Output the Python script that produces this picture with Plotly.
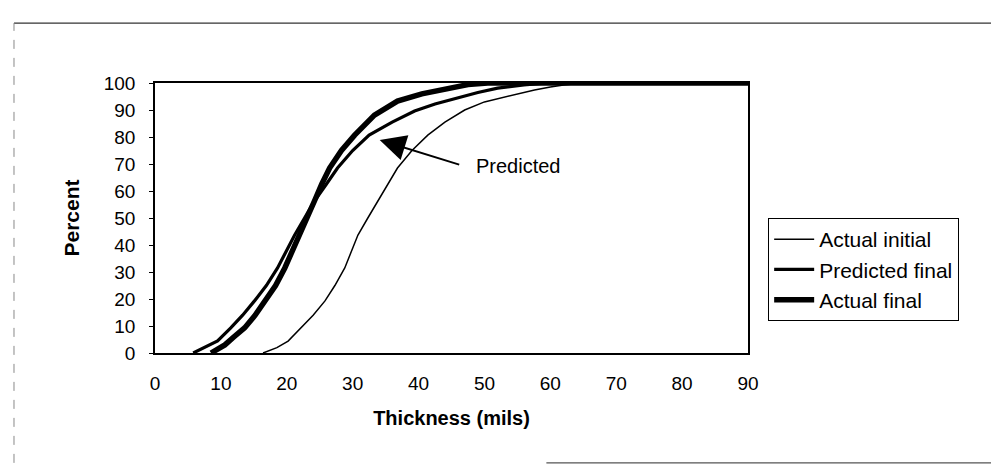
import plotly.graph_objects as go

# ---- data ----
actual_initial_x = [16.4, 18.5, 20.2, 22.1, 24.0, 25.8, 27.3, 28.8, 30.8, 32.3, 33.8, 36.8, 39.0,
                    41.4, 44.0, 47.0, 50.0, 52.4, 55.0, 57.6, 60.0, 62.0, 65.0, 90]
actual_initial_y = [0, 2, 4.4, 9.3, 14, 19.3, 25, 31.5, 43.7, 50, 56.3, 68.5, 75,
                    80.7, 85.5, 90, 93, 94.4, 96, 97.4, 98.5, 99.3, 100, 100]

predicted_final_x = [5.8, 8.0, 9.5, 11.5, 13.3, 15.1, 16.9, 18.6, 21.2, 22.7, 24.2, 26.0, 27.7,
                     30.0, 32.5, 36.0, 39.4, 42.5, 45.9, 49.0, 52.0, 56.0, 59.5, 90]
predicted_final_y = [0, 2.5, 4.5, 9.3, 14, 19.3, 25, 31.5, 43.7, 50, 56.3, 62.5, 68.5,
                     75, 80.7, 85.5, 89.6, 92.2, 94.4, 96.5, 98.1, 99.3, 100, 100]

actual_final_x = [8.5, 10.6, 12.0, 13.6, 15.2, 16.8, 18.3, 19.7, 22.0, 23.1, 24.2, 25.3, 26.5,
                  28.3, 30.3, 33.3, 36.8, 40.5, 44.4, 47.5, 50.5, 90]
actual_final_y = [0, 3, 6, 9.3, 14, 19.3, 25, 31.5, 43.7, 50, 56.3, 62.5, 68.5,
                  75, 80.7, 88.1, 93.3, 96, 98.1, 99.4, 100, 100]

x_ticks = [0, 10, 20, 30, 40, 50, 60, 70, 80, 90]
y_ticks = [0, 10, 20, 30, 40, 50, 60, 70, 80, 90, 100]

series_names = ["Actual initial", "Predicted final", "Actual final"]
annotation_text = "Predicted"
arrow_tip = (34.1, 78.9)
arrow_tail = (46.4, 69.6)
label_pos = (48.4, 69.3)

FONT = "Liberation Sans, Arial, sans-serif"

fig = go.Figure()
fig.add_trace(go.Scatter(x=actual_initial_x, y=actual_initial_y, mode="lines",
                         name=series_names[0], line=dict(color="black", width=1.5)))
fig.add_trace(go.Scatter(x=predicted_final_x, y=predicted_final_y, mode="lines",
                         name=series_names[1], line=dict(color="black", width=3.2)))
fig.add_trace(go.Scatter(x=actual_final_x, y=actual_final_y, mode="lines",
                         name=series_names[2], line=dict(color="black", width=5.5)))

fig.update_layout(
    width=999, height=474,
    margin=dict(l=147, r=259, t=75, b=129),
    paper_bgcolor="white", plot_bgcolor="white",
    font=dict(family=FONT, color="black", size=19),
    showlegend=True,
    legend=dict(x=1.034, y=0.5, xanchor="left", yanchor="top",
                bordercolor="black", borderwidth=1, bgcolor="white",
                font=dict(size=21, family=FONT), tracegroupgap=0,
                itemwidth=40),
    xaxis=dict(range=[0, 90], tickvals=x_ticks, ticks="", showgrid=False,
               zeroline=False, showline=True, linecolor="black", linewidth=1.5,
               mirror=True, ticklabelstandoff=12,
               tickfont=dict(size=19),
               title=dict(text="<b>Thickness (mils)</b>", font=dict(size=20), standoff=18)),
    yaxis=dict(range=[0, 100], tickvals=y_ticks, ticks="outside", ticklen=4,
               tickcolor="black", showgrid=False, zeroline=False, showline=True,
               linecolor="black", linewidth=1.5, mirror=True, ticklabelstandoff=10,
               tickfont=dict(size=19),
               title=dict(text="<b>Percent</b>", font=dict(size=21), standoff=18)),
)

fig.add_annotation(x=arrow_tip[0], y=arrow_tip[1], ax=arrow_tail[0], ay=arrow_tail[1],
                   xref="x", yref="y", axref="x", ayref="y", text="",
                   showarrow=True, arrowhead=2, arrowsize=2.6, arrowwidth=2,
                   arrowcolor="black")
fig.add_annotation(x=label_pos[0], y=label_pos[1], xref="x", yref="y",
                   text=annotation_text, showarrow=False, xanchor="left",
                   font=dict(size=20, family=FONT, color="black"))

# outer chart border (scanned frame: top, left, partial bottom)
fig.add_shape(type="line", xref="paper", yref="paper", x0=-0.2378, x1=1.46, y0=1.222, y1=1.222,
              line=dict(color="#333333", width=1.2))
fig.add_shape(type="line", xref="paper", yref="paper", x0=-0.2378, x1=-0.2378, y0=-0.407, y1=1.222,
              line=dict(color="#888888", width=1, dash="dash"))
fig.add_shape(type="line", xref="paper", yref="paper", x0=0.66, x1=1.46, y0=-0.407, y1=-0.407,
              line=dict(color="#555555", width=1.2))

fig.write_html("out.html")
